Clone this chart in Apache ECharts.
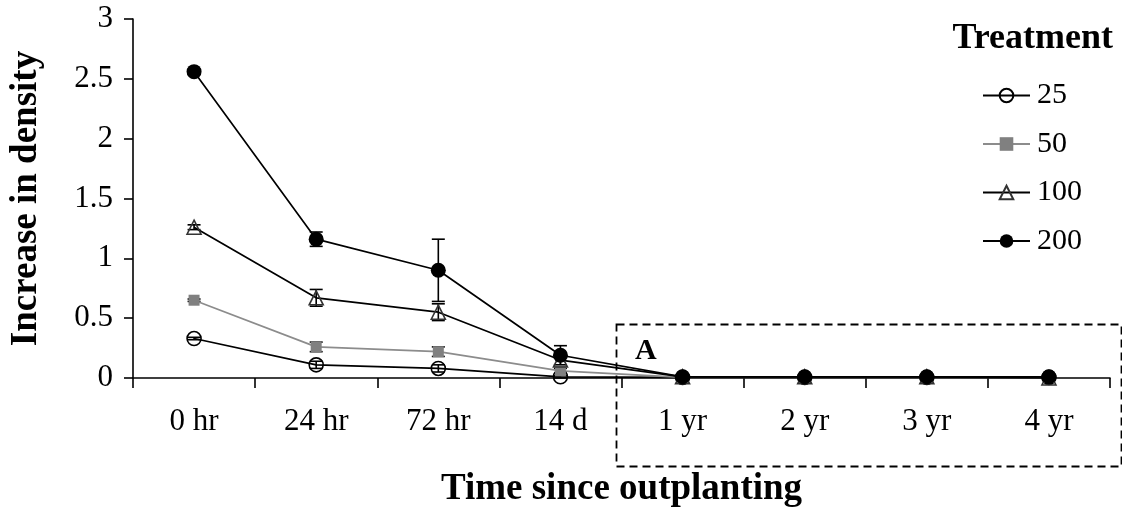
<!DOCTYPE html>
<html>
<head>
<meta charset="utf-8">
<script src="https://cdn.jsdelivr.net/npm/echarts@6/dist/echarts.min.js"></script>
<style>
  html, body { margin: 0; padding: 0; background: #fff; }
  #chart { width: 1122px; height: 515px; }
</style>
</head>
<body>
<div id="chart"></div>
<script>
// Time points after outplanting
const categories = ['0 hr', '24 hr', '72 hr', '14 d', '1 yr', '2 yr', '3 yr', '4 yr'];

// Mean increase in density per treatment
const t25  = [0.33, 0.11, 0.08, 0.01, 0.005, 0.005, 0.005, 0.005];
const t50  = [0.65, 0.26, 0.22, 0.06, 0.005, 0.005, 0.005, 0.005];
const t100 = [1.26, 0.67, 0.55, 0.15, 0.01, 0.01, 0.01, 0.0];
const t200 = [2.56, 1.16, 0.90, 0.19, 0.01, 0.01, 0.01, 0.01];

// Standard errors
const e25  = [0.01, 0.03, 0.03, 0.01, 0, 0, 0, 0];
const e50  = [0.01, 0.04, 0.04, 0.02, 0, 0, 0, 0];
const e100 = [0.02, 0.07, 0.07, 0.04, 0, 0, 0, 0];
const e200 = [0.02, 0.06, 0.26, 0.08, 0, 0, 0, 0];

const yTicks = [0, 0.5, 1, 1.5, 2, 2.5, 3];

const serif = '"Liberation Serif", "DejaVu Serif", serif';

function errData(means, errs) {
  return means.map((m, i) => [i, m - errs[i], m + errs[i]]);
}

function errSeries(name, means, errs, color) {
  return {
    type: 'custom',
    name: name + ' err',
    z: 1,
    silent: true,
    renderItem: function (params, api) {
      const x = api.value(0);
      const lo = api.coord([x, api.value(1)]);
      const hi = api.coord([x, api.value(2)]);
      if (Math.abs(lo[1] - hi[1]) < 2) return null;
      const w = 6.5;
      const st = { stroke: color, lineWidth: 1.6 };
      return {
        type: 'group',
        children: [
          { type: 'line', shape: { x1: lo[0], y1: lo[1], x2: hi[0], y2: hi[1] }, style: st },
          { type: 'line', shape: { x1: lo[0] - w, y1: lo[1], x2: lo[0] + w, y2: lo[1] }, style: st },
          { type: 'line', shape: { x1: hi[0] - w, y1: hi[1], x2: hi[0] + w, y2: hi[1] }, style: st }
        ]
      };
    },
    data: errData(means, errs)
  };
}

const chart = echarts.init(document.getElementById('chart'));

chart.setOption({
  backgroundColor: '#fff',
  animation: false,
  textStyle: { fontFamily: serif, color: '#000' },
  title: {
    text: 'Treatment',
    right: 4,
    top: 16,
    textStyle: { fontFamily: serif, fontWeight: 'bold', fontSize: 36, color: '#000' }
  },
  legend: {
    orient: 'vertical',
    left: 977,
    top: 75.5,
    itemWidth: 47,
    itemHeight: 17,
    itemGap: 18.5,
    textStyle: { fontFamily: serif, fontSize: 30, color: '#000', padding: [0, 0, 0, 2] },
    data: ['25', '50', '100', '200']
  },
  grid: { left: 132, right: 12, top: 19, bottom: 137, containLabel: false },
  xAxis: {
    type: 'category',
    data: categories,
    boundaryGap: true,
    name: 'Time since outplanting',
    nameLocation: 'middle',
    nameGap: 93,
    nameTextStyle: { fontFamily: serif, fontWeight: 'bold', fontSize: 37, color: '#000' },
    axisLine: { lineStyle: { color: '#000', width: 1.6 } },
    axisTick: { show: true, length: 10, lineStyle: { color: '#000', width: 1.6 } },
    axisLabel: { fontFamily: serif, fontSize: 31, color: '#000', margin: 28 },
    splitLine: { show: false }
  },
  yAxis: {
    type: 'value',
    min: yTicks[0],
    max: yTicks[yTicks.length - 1],
    interval: 0.5,
    name: 'Increase in density',
    nameLocation: 'middle',
    nameGap: 88,
    nameRotate: 90,
    nameTextStyle: { fontFamily: serif, fontWeight: 'bold', fontSize: 37, color: '#000' },
    axisLine: { show: true, lineStyle: { color: '#000', width: 1.6 } },
    axisTick: { show: true, length: 9, lineStyle: { color: '#000', width: 1.6 } },
    axisLabel: { fontFamily: serif, fontSize: 31, color: '#000', margin: 20 },
    splitLine: { show: false }
  },
  series: [
    errSeries('25', t25, e25, '#000'),
    errSeries('50', t50, e50, '#000'),
    errSeries('100', t100, e100, '#000'),
    errSeries('200', t200, e200, '#000'),
    {
      name: '25', type: 'line', data: t25, z: 3,
      symbol: 'circle', symbolSize: 14,
      lineStyle: { color: '#000', width: 1.7 },
      itemStyle: { color: 'rgba(255,255,255,0)', borderColor: '#000', borderWidth: 1.6 }
    },
    {
      name: '50', type: 'line', data: t50, z: 3,
      symbol: 'rect', symbolSize: 11,
      lineStyle: { color: '#8c8c8c', width: 1.7 },
      itemStyle: { color: '#808080', borderColor: '#808080', borderWidth: 0 }
    },
    {
      name: '100', type: 'line', data: t100, z: 3,
      symbol: 'triangle', symbolSize: 14,
      lineStyle: { color: '#000', width: 1.7 },
      itemStyle: { color: 'rgba(255,255,255,0)', borderColor: '#333', borderWidth: 1.6 }
    },
    {
      name: '200', type: 'line', data: t200, z: 4,
      symbol: 'circle', symbolSize: 15,
      lineStyle: { color: '#000', width: 1.7 },
      itemStyle: { color: '#000', borderColor: '#000', borderWidth: 0 }
    }
  ],
  graphic: [
    {
      type: 'rect',
      left: 614, top: 322,
      shape: { width: 505, height: 142 },
      style: { fill: 'none', stroke: '#000', lineWidth: 1.8, lineDash: [8, 5] },
      z: 10
    },
    {
      type: 'text',
      left: 635, top: 336,
      style: { text: 'A', fill: '#000', font: 'bold 30px ' + serif },
      z: 10
    }
  ]
});
</script>
</body>
</html>
